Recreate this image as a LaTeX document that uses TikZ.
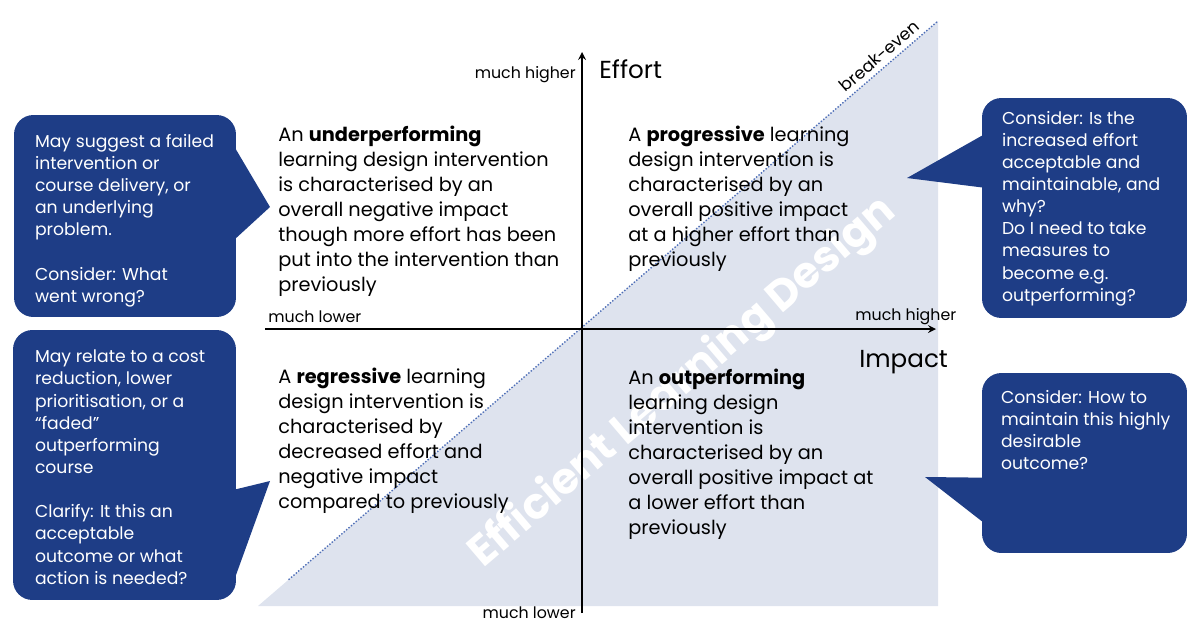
\documentclass[tikz,border=0pt]{standalone}
\usepackage{fontspec}
\setmainfont{Poppins}
\usetikzlibrary{shapes,arrows,calc}

\definecolor{bubbleblue}{RGB}{30,61,134}
\definecolor{zonegrey}{RGB}{222,227,238}
\definecolor{evenline}{RGB}{80,112,184}

\tikzset{
  quadtext/.style={anchor=north west,inner sep=0pt,align=left,font=\fontsize{11}{14.2}\selectfont},
  bubble/.style={fill=bubbleblue,rounded corners=11pt,inner sep=0pt},
  bubbletext/.style={anchor=north west,inner sep=0pt,align=left,text=white,font=\fontsize{9.8}{12.6}\selectfont},
  axislabel/.style={inner sep=0pt,font=\fontsize{9}{11}\selectfont},
  axistitle/.style={inner sep=0pt,font=\fontsize{14}{16}\selectfont},
}

\begin{document}
\begin{tikzpicture}[x=0.02cm,y=-0.02cm]
        \useasboundingbox (0,0) rectangle (1200,633);

        % efficient zone below the break-even line
        \coordinate (zA) at (258,606);
        \coordinate (zB) at (938,606);
        \coordinate (zC) at (938,21);
        \fill[zonegrey] (zA) -- (zB) -- (zC) -- cycle;
        \coordinate (be1) at ($(zA)!0.045!(zC)$);
        \draw[evenline,densely dotted,line width=0.8pt] (be1) -- (zC);
        \node[axislabel,rotate=40.8,anchor=south,inner sep=3pt,font=\fontsize{9.6}{11}\selectfont] (breakeven) at ($(zA)!0.925!(zC)$) {break-even};
        \node[white,rotate=40.5,font=\fontsize{24.5}{28}\selectfont\bfseries] (eld) at (683,383) {Efficient Learning Design};

        % axes
        \coordinate (ybot) at (582,613);
        \coordinate (ytop) at (582,52);
        \coordinate (xleft) at (265,329);
        \coordinate (xright) at (936,329);
        \draw[line width=1pt,-stealth] (ybot) -- (ytop);
        \draw[line width=1pt,-stealth] (xleft) -- (xright);

        \node[axislabel,anchor=base east] (yhigh) at (576,78) {much higher};
        \node[axistitle,anchor=base west] (effort) at (599,78) {Effort};
        \node[axislabel,anchor=base east] (ylow) at (576,618) {much lower};
        \node[axislabel,anchor=base west] (xlow) at (268,322) {much lower};
        \node[axislabel,anchor=base west] (xhigh) at (855,320) {much higher};
        \node[axistitle,anchor=base west] (impact) at (859,367) {Impact};

        % quadrants
        \node[quadtext] (under) at (278,126) {An \textbf{underperforming}\\learning design intervention\\is characterised by an\\overall negative impact\\though more effort has been\\put into the intervention than\\previously};
        \node[quadtext] (prog) at (628,126) {A \textbf{progressive} learning\\design intervention is\\characterised by an\\overall positive impact\\at a higher effort than\\previously};
        \node[quadtext] (regr) at (278,368) {A \textbf{regressive} learning\\design intervention is\\characterised by\\decreased effort and\\negative impact\\compared to previously};
        \node[quadtext] (outp) at (628,369) {An \textbf{outperforming}\\learning design\\intervention is\\characterised by an\\overall positive impact at\\a lower effort than\\previously};

        % callouts
        \node[bubble,minimum width=4.44cm,minimum height=4.04cm] (c1) at (125,216) {};
        \coordinate (p1) at (270,207);
        \fill[bubbleblue] ($(c1.north east)+(-2,32)$) -- (p1) -- ($(c1.north east)+(-2,125)$) -- cycle;
        \node[bubbletext] (t1) at ($(c1.north west)+(21,19)$) {May suggest a failed\\intervention or\\course delivery, or\\an underlying\\problem.\\[12.6pt]Consider: What\\went wrong?};

        \node[bubble,minimum width=4.46cm,minimum height=5.4cm] (c2) at (124.5,465) {};
        \coordinate (p2) at (270,481);
        \fill[bubbleblue] ($(c2.north east)+(-2,160)$) -- (p2) -- ($(c2.north east)+(-2,250)$) -- cycle;
        \node[bubbletext] (t2) at ($(c2.north west)+(22,20)$) {May relate to a cost\\reduction, lower\\prioritisation, or a\\“faded”\\outperforming\\course\\[12.6pt]Clarify: It this an\\acceptable\\outcome or what\\action is needed?};

        \node[bubble,minimum width=4.1cm,minimum height=4.4cm] (c3) at (1084.5,208) {};
        \coordinate (p3) at (907,178);
        \fill[bubbleblue] ($(c3.north west)+(2,37)$) -- (p3) -- ($(c3.north west)+(2,90)$) -- cycle;
        \node[bubbletext] (t3) at ($(c3.north west)+(20,13)$) {Consider: Is the\\increased effort\\acceptable and\\maintainable, and\\why?\\Do I need to take\\measures to\\become e.g.\\outperforming?};

        \node[bubble,minimum width=4.1cm,minimum height=3.6cm] (c4) at (1084.5,463) {};
        \coordinate (p4) at (925,477);
        \fill[bubbleblue] ($(c4.north west)+(2,105)$) -- (p4) -- ($(c4.north west)+(2,150)$) -- cycle;
        \node[bubbletext] (t4) at ($(c4.north west)+(19,17)$) {Consider: How to\\maintain this highly\\desirable\\outcome?};

    \end{tikzpicture}
\end{document}
